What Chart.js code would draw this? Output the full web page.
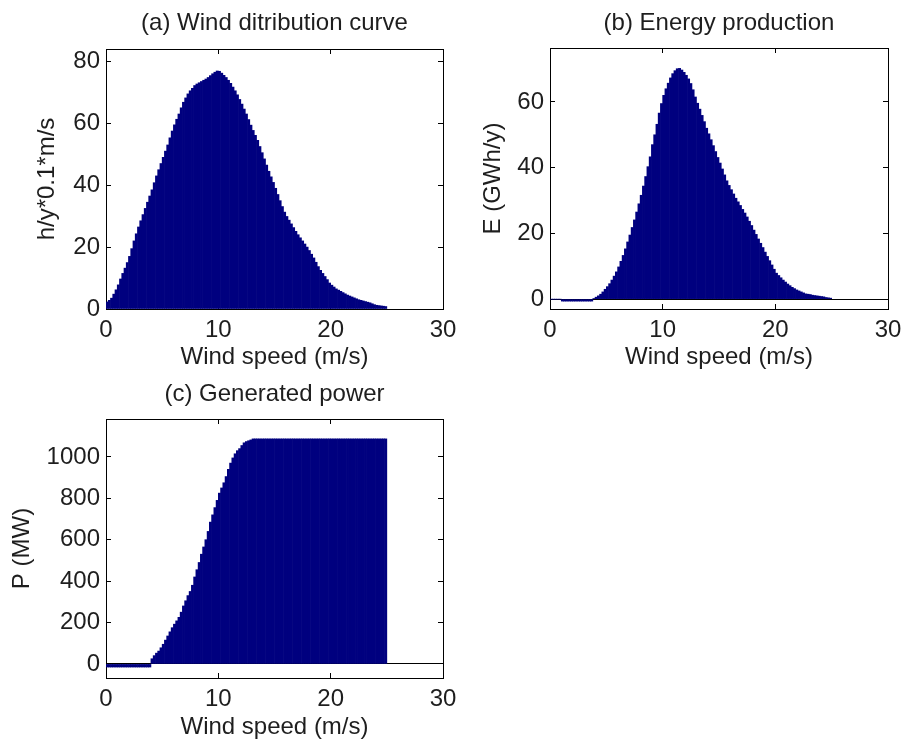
<!DOCTYPE html>
<html>
<head>
<meta charset="utf-8">
<script src="https://cdn.jsdelivr.net/npm/chart.js@4.4.1/dist/chart.umd.min.js"></script>
<style>
  body { margin: 0; background: #fff; }
  #wrap { position: relative; width: 905px; height: 740px; overflow: hidden; }
  canvas { position: absolute; }
</style>
</head>
<body>
<div id="wrap">
  <canvas id="chartA" width="460" height="372" style="left:0;top:0"></canvas>
  <canvas id="chartB" width="445" height="372" style="left:460px;top:0"></canvas>
  <canvas id="chartC" width="460" height="368" style="left:0;top:372px"></canvas>
</div>
<script>
// Wind speed bins (m/s), centre of each 0.2 m/s bin
const speeds = [
  0.1, 0.3, 0.5, 0.7, 0.9, 1.1, 1.3, 1.5, 1.7, 1.9,
  2.1, 2.3, 2.5, 2.7, 2.9, 3.1, 3.3, 3.5, 3.7, 3.9,
  4.1, 4.3, 4.5, 4.7, 4.9, 5.1, 5.3, 5.5, 5.7, 5.9,
  6.1, 6.3, 6.5, 6.7, 6.9, 7.1, 7.3, 7.5, 7.7, 7.9,
  8.1, 8.3, 8.5, 8.7, 8.9, 9.1, 9.3, 9.5, 9.7, 9.9,
  10.1, 10.3, 10.5, 10.7, 10.9, 11.1, 11.3, 11.5, 11.7, 11.9,
  12.1, 12.3, 12.5, 12.7, 12.9, 13.1, 13.3, 13.5, 13.7, 13.9,
  14.1, 14.3, 14.5, 14.7, 14.9, 15.1, 15.3, 15.5, 15.7, 15.9,
  16.1, 16.3, 16.5, 16.7, 16.9, 17.1, 17.3, 17.5, 17.7, 17.9,
  18.1, 18.3, 18.5, 18.7, 18.9, 19.1, 19.3, 19.5, 19.7, 19.9,
  20.1, 20.3, 20.5, 20.7, 20.9, 21.1, 21.3, 21.5, 21.7, 21.9,
  22.1, 22.3, 22.5, 22.7, 22.9, 23.1, 23.3, 23.5, 23.7, 23.9,
  24.1, 24.3, 24.5, 24.7, 24.9
];

// (a) hours per year per 0.1 m/s
const windHours = [
  2.3, 2.8, 3.5, 4.8, 6.2, 7.8, 9.7, 11.5, 13.2, 15.0,
  17.0, 19.5, 22.0, 24.3, 26.5, 28.5, 30.5, 32.5, 34.5, 36.5,
  38.5, 40.8, 43.0, 45.0, 47.0, 49.0, 51.0, 53.0, 55.3, 57.5,
  59.5, 61.3, 63.0, 65.0, 66.8, 68.2, 69.5, 70.5, 71.3, 72.2,
  72.7, 73.1, 73.5, 73.9, 74.3, 74.8, 75.4, 76.0, 76.5, 76.9,
  76.8, 76.2, 75.5, 74.8, 73.9, 72.9, 71.7, 70.5, 69.2, 67.7,
  66.2, 64.6, 63.0, 61.2, 59.4, 57.7, 56.1, 54.5, 52.5, 50.5,
  48.5, 46.5, 44.5, 42.7, 40.9, 39.0, 37.0, 35.0, 33.1, 31.3,
  29.9, 28.7, 27.5, 26.3, 25.1, 24.0, 23.0, 22.0, 21.0, 20.0,
  18.9, 17.7, 16.5, 15.1, 13.7, 12.5, 11.5, 10.5, 9.5, 8.4,
  7.7, 7.1, 6.5, 6.1, 5.7, 5.3, 4.9, 4.5, 4.2, 3.9,
  3.6, 3.3, 3.0, 2.8, 2.6, 2.4, 2.2, 2.0, 1.7, 1.4,
  1.2, 1.1, 1.0, 0.9, 0.8
];

// (b) energy, GWh/y
const energy = [
  0, 0, 0, 0, 0, -0.6, -0.6, -0.6, -0.6, -0.6,
  -0.6, -0.6, -0.6, -0.6, -0.6, -0.6, -0.6, -0.6, -0.6, 0.2,
  0.6, 1.0, 1.5, 2.2, 3.0, 3.8, 4.7, 5.8, 7.0, 8.3,
  9.8, 11.5, 13.3, 15.3, 17.4, 19.5, 21.8, 24.1, 26.5, 29.0,
  31.6, 34.4, 37.3, 40.3, 43.3, 47.0, 50.0, 53.2, 56.6, 59.5,
  62.0, 64.0, 65.7, 67.3, 68.6, 69.5, 70.1, 70.2, 69.7, 69.0,
  68.1, 67.0, 65.6, 63.7, 61.5, 59.6, 57.8, 55.9, 54.0, 52.0,
  50.3, 48.5, 46.7, 44.9, 43.1, 41.4, 39.6, 37.8, 36.0, 34.6,
  33.3, 32.0, 30.7, 29.6, 28.5, 27.3, 26.2, 25.0, 23.7, 22.4,
  21.0, 19.7, 18.3, 17.0, 15.7, 14.3, 13.0, 11.7, 10.4, 9.1,
  7.9, 7.2, 6.5, 5.8, 5.2, 4.6, 4.1, 3.6, 3.2, 2.8,
  2.5, 2.2, 1.9, 1.6, 1.5, 1.4, 1.2, 1.1, 1.0, 0.9,
  0.8, 0.7, 0.5, 0.4, 0.3
];

// (c) generated power, MW
const power = [
  -15, -15, -15, -15, -15, -15, -15, -15, -15, -15,
  -15, -15, -15, -15, -15, -15, -15, -15, -15, -15,
  25, 40, 52, 62, 78, 95, 115, 135, 155, 175,
  192, 208, 225, 250, 280, 305, 330, 350, 380, 420,
  455, 490, 530, 565, 600, 640, 685, 720, 755, 790,
  825, 850, 875, 905, 940, 970, 995, 1015, 1030, 1040,
  1055, 1068, 1074, 1078, 1082, 1087, 1087, 1087, 1087, 1087,
  1087, 1087, 1087, 1087, 1087, 1087, 1087, 1087, 1087, 1087,
  1087, 1087, 1087, 1087, 1087, 1087, 1087, 1087, 1087, 1087,
  1087, 1087, 1087, 1087, 1087, 1087, 1087, 1087, 1087, 1087,
  1087, 1087, 1087, 1087, 1087, 1087, 1087, 1087, 1087, 1087,
  1087, 1087, 1087, 1087, 1087, 1087, 1087, 1087, 1087, 1087,
  1087, 1087, 1087, 1087, 1087
];

// tick labels
const xTicks = [0, 10, 20, 30];
const yTicksA = [0, 20, 40, 60, 80];
const yTicksB = [0, 20, 40, 60];
const yTicksC = [0, 200, 400, 600, 800, 1000];

const FONT = { family: "'Liberation Sans', Arial, sans-serif", size: 24 };
const TXT = '#1e1e1e';
const BAR = '#00007f';
Chart.defaults.font.family = FONT.family;

// put the ticks exactly where the figure has them
function useTicks(list) {
  return scale => { scale.ticks = list.map(v => ({ value: v })); };
}

function drawPanel(id, p) {
  const points = speeds.map((s, i) => ({ x: s, y: p.values[i] }));
  const frame = { display: true, color: '#000', width: 1 };
  const inner = { drawOnChartArea: false, tickLength: -5, tickColor: '#000', offset: false };
  const xRange = { type: 'linear', min: xTicks[0], max: xTicks[xTicks.length - 1], offset: false };
  const plain = v => String(v);

  new Chart(document.getElementById(id), {
    type: 'bar',
    data: {
      datasets: [{
        data: points,
        backgroundColor: BAR,
        borderWidth: 0,
        barPercentage: 1,
        categoryPercentage: 1
      }]
    },
    options: {
      responsive: false,
      animation: false,
      layout: { padding: 0 },
      plugins: { legend: { display: false }, tooltip: { enabled: false } },
      scales: {
        x: {
          ...xRange, position: 'bottom',
          afterBuildTicks: useTicks(xTicks),
          ticks: { font: FONT, color: TXT, padding: 12, maxRotation: 0, autoSkip: false, callback: plain },
          grid: inner, border: frame,
          title: { display: true, text: 'Wind speed (m/s)', font: FONT, color: TXT, padding: { top: 0, bottom: p.xTitlePad } },
          afterFit: s => { s.height = p.bottomH; s.paddingLeft = 0; s.paddingRight = 0; }
        },
        x2: {
          ...xRange, position: 'top',
          afterBuildTicks: useTicks(xTicks),
          ticks: { display: false },
          grid: inner, border: frame,
          title: { display: true, text: p.title, font: FONT, color: TXT, padding: { top: p.titlePad, bottom: 0 } },
          afterFit: s => { s.height = p.topH; }
        },
        y: {
          type: 'linear', position: 'left', min: p.yMin, max: p.yMax,
          afterBuildTicks: useTicks(p.yTicks),
          ticks: { font: FONT, color: TXT, padding: 11, autoSkip: false, callback: plain },
          grid: {
            drawOnChartArea: true, tickLength: -5, tickColor: '#000',
            color: c => (c.tick && c.tick.value === 0) ? '#000' : 'rgba(0,0,0,0)'
          },
          border: frame,
          title: { display: true, text: p.yTitle, font: FONT, color: TXT, padding: { top: p.yTitlePad, bottom: 0 } },
          afterFit: s => { s.width = p.leftW; s.paddingTop = 0; s.paddingBottom = 0; }
        },
        y2: {
          type: 'linear', position: 'right', min: p.yMin, max: p.yMax,
          afterBuildTicks: useTicks(p.yTicks),
          ticks: { display: false },
          grid: inner, border: frame,
          afterFit: s => { s.width = p.rightW; }
        }
      }
    }
  });
}

drawPanel('chartA', {
  values: windHours, title: '(a) Wind ditribution curve', yTitle: 'h/y*0.1*m/s',
  yMin: 0, yMax: 84, yTicks: yTicksA,
  leftW: 106, rightW: 17, topH: 49, bottomH: 63,
  titlePad: 8.6, yTitlePad: 32.6, xTitlePad: 0
});

drawPanel('chartB', {
  values: energy, title: '(b) Energy production', yTitle: 'E (GWh/y)',
  yMin: -3, yMax: 76.4, yTicks: yTicksB,
  leftW: 90, rightW: 17, topH: 48, bottomH: 63,
  titlePad: 8.6, yTitlePad: 18.6, xTitlePad: 0
});

drawPanel('chartC', {
  values: power, title: '(c) Generated power', yTitle: 'P (MW)',
  yMin: -68, yMax: 1183, yTicks: yTicksC,
  leftW: 106, rightW: 17, topH: 47, bottomH: 62,
  titlePad: 7.6, yTitlePad: 7.6, xTitlePad: -2
});
</script>
</body>
</html>
